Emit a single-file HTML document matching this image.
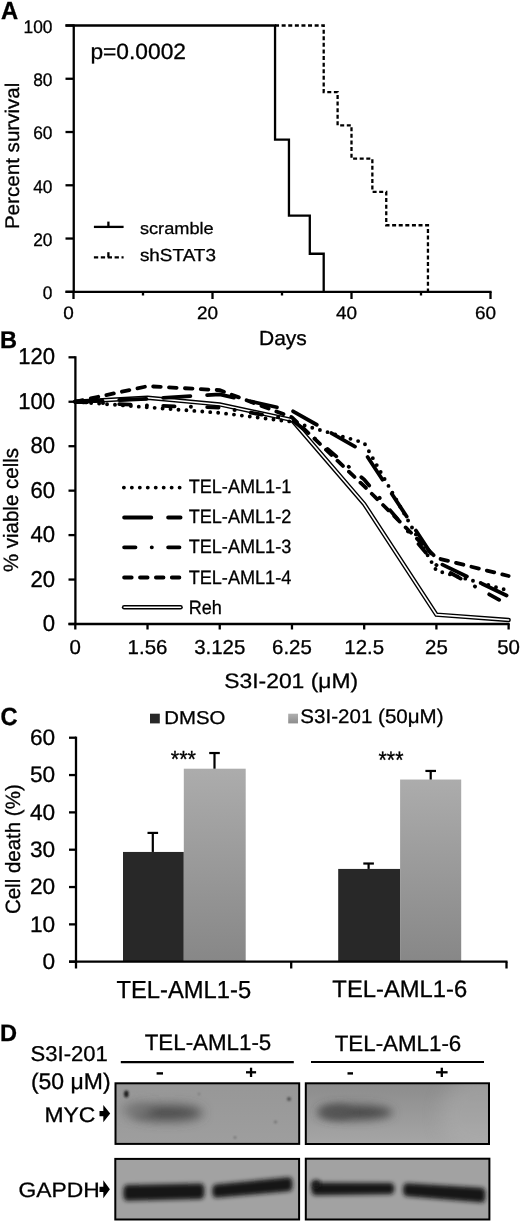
<!DOCTYPE html>
<html><head><meta charset="utf-8"><style>
html,body{margin:0;padding:0;background:#fff;}
svg{display:block;opacity:0.999;}
text{font-family:"Liberation Sans", sans-serif;fill:#000;stroke:#000;stroke-width:0.3px;text-rendering:geometricPrecision;}
</style></head><body>
<svg width="520" height="1222" viewBox="0 0 520 1222" style='font-family:"Liberation Sans", sans-serif'>
<rect width="520" height="1222" fill="#fff"/>
<text transform="matrix(0.9901 0 0 1.0302 0.96 18.60)" font-size="24" font-weight="bold">A</text>
<line x1="73.75" y1="24.40" x2="73.75" y2="292.90" stroke="#000" stroke-width="2.3" />
<line x1="65.50" y1="291.80" x2="73.75" y2="291.80" stroke="#000" stroke-width="2.3" />
<text transform="matrix(0.9620 0 0 1.0094 52.50 299.24)" font-size="18" text-anchor="end">0</text>
<line x1="65.50" y1="238.54" x2="73.75" y2="238.54" stroke="#000" stroke-width="2.3" />
<text transform="matrix(0.9620 0 0 1.0094 52.50 245.98)" font-size="18" text-anchor="end">20</text>
<line x1="65.50" y1="185.28" x2="73.75" y2="185.28" stroke="#000" stroke-width="2.3" />
<text transform="matrix(0.9620 0 0 1.0094 52.50 192.72)" font-size="18" text-anchor="end">40</text>
<line x1="65.50" y1="132.02" x2="73.75" y2="132.02" stroke="#000" stroke-width="2.3" />
<text transform="matrix(0.9620 0 0 1.0094 52.50 139.46)" font-size="18" text-anchor="end">60</text>
<line x1="65.50" y1="78.76" x2="73.75" y2="78.76" stroke="#000" stroke-width="2.3" />
<text transform="matrix(0.9620 0 0 1.0094 52.50 86.20)" font-size="18" text-anchor="end">80</text>
<line x1="65.50" y1="25.50" x2="73.75" y2="25.50" stroke="#000" stroke-width="2.3" />
<text transform="matrix(0.9620 0 0 1.0094 52.50 32.94)" font-size="18" text-anchor="end">100</text>
<line x1="65.50" y1="291.80" x2="491.60" y2="291.80" stroke="#000" stroke-width="2.3" />
<line x1="73.50" y1="291.80" x2="73.50" y2="299.00" stroke="#000" stroke-width="2.3" />
<text transform="matrix(1.0530 0 0 1.0038 68.44 319.48)" font-size="18" text-anchor="middle">0</text>
<line x1="212.50" y1="291.80" x2="212.50" y2="299.00" stroke="#000" stroke-width="2.3" />
<text transform="matrix(1.0530 0 0 1.0038 207.44 319.48)" font-size="18" text-anchor="middle">20</text>
<line x1="351.50" y1="291.80" x2="351.50" y2="299.00" stroke="#000" stroke-width="2.3" />
<text transform="matrix(1.0530 0 0 1.0038 346.44 319.48)" font-size="18" text-anchor="middle">40</text>
<line x1="490.50" y1="291.80" x2="490.50" y2="299.00" stroke="#000" stroke-width="2.3" />
<text transform="matrix(1.0530 0 0 1.0038 485.44 319.48)" font-size="18" text-anchor="middle">60</text>
<line x1="143.00" y1="291.80" x2="143.00" y2="295.50" stroke="#000" stroke-width="2.3" />
<line x1="282.00" y1="291.80" x2="282.00" y2="295.50" stroke="#000" stroke-width="2.3" />
<line x1="421.00" y1="291.80" x2="421.00" y2="295.50" stroke="#000" stroke-width="2.3" />
<text transform="matrix(1.0511 0 0 1.0194 258.95 344.58)" font-size="20">Days</text>
<text transform="matrix(0 -1.0298 0.9862 0 18.71 229.12)" font-size="20">Percent survival</text>
<text transform="matrix(1.0349 0 0 1.0038 90.38 59.03)" font-size="22">p=0.0002</text>
<path d="M65.5 25.50 H275.05 V139.64 H288.95 V215.72 H309.80 V253.75 H323.70 V291.80" fill="none" stroke="#000" stroke-width="2.3"/>
<path d="M275.05 25.50 H323.70 V92.08 H337.60 V125.36 H351.50 V158.65 H372.35 V191.94 H386.25 V225.23 H427.95 V291.80" fill="none" stroke="#000" stroke-width="2.3" stroke-dasharray="4 2.6"/>
<line x1="93.90" y1="226.90" x2="123.60" y2="226.90" stroke="#000" stroke-width="2.3" />
<line x1="108.40" y1="221.60" x2="108.40" y2="226.90" stroke="#000" stroke-width="2.3" />
<text transform="matrix(1.0100 0 0 0.9233 139.91 234.43)" font-size="18">scramble</text>
<line x1="93.90" y1="257.30" x2="123.60" y2="257.30" stroke="#000" stroke-width="2.3" stroke-dasharray="4.3 2.6"/>
<line x1="108.40" y1="252.20" x2="108.40" y2="257.30" stroke="#000" stroke-width="2.3" />
<text transform="matrix(1.0505 0 0 0.9674 139.90 261.06)" font-size="18">shSTAT3</text>
<text transform="matrix(0.9829 0 0 1.0061 0.00 347.52)" font-size="24" font-weight="bold">B</text>
<line x1="75.40" y1="356.20" x2="75.40" y2="625.10" stroke="#000" stroke-width="2.3" />
<line x1="68.50" y1="624.00" x2="75.40" y2="624.00" stroke="#000" stroke-width="2.3" />
<text transform="matrix(1.0047 0 0 1.0415 55.11 631.01)" font-size="22" text-anchor="end">0</text>
<line x1="68.50" y1="579.55" x2="75.40" y2="579.55" stroke="#000" stroke-width="2.3" />
<text transform="matrix(1.0047 0 0 1.0415 55.11 586.56)" font-size="22" text-anchor="end">20</text>
<line x1="68.50" y1="535.10" x2="75.40" y2="535.10" stroke="#000" stroke-width="2.3" />
<text transform="matrix(1.0047 0 0 1.0415 55.11 542.11)" font-size="22" text-anchor="end">40</text>
<line x1="68.50" y1="490.65" x2="75.40" y2="490.65" stroke="#000" stroke-width="2.3" />
<text transform="matrix(1.0047 0 0 1.0415 55.11 497.66)" font-size="22" text-anchor="end">60</text>
<line x1="68.50" y1="446.20" x2="75.40" y2="446.20" stroke="#000" stroke-width="2.3" />
<text transform="matrix(1.0047 0 0 1.0415 55.11 453.21)" font-size="22" text-anchor="end">80</text>
<line x1="68.50" y1="401.75" x2="75.40" y2="401.75" stroke="#000" stroke-width="2.3" />
<text transform="matrix(1.0047 0 0 1.0415 55.11 408.76)" font-size="22" text-anchor="end">100</text>
<line x1="68.50" y1="357.30" x2="75.40" y2="357.30" stroke="#000" stroke-width="2.3" />
<text transform="matrix(1.0047 0 0 1.0415 55.11 364.31)" font-size="22" text-anchor="end">120</text>
<line x1="68.50" y1="624.00" x2="509.72" y2="624.00" stroke="#000" stroke-width="2.3" />
<line x1="75.30" y1="624.00" x2="75.30" y2="629.50" stroke="#000" stroke-width="2.3" />
<text transform="matrix(1.0228 0 0 1.0085 75.30 654.45)" font-size="20" text-anchor="middle">0</text>
<line x1="147.52" y1="624.00" x2="147.52" y2="629.50" stroke="#000" stroke-width="2.3" />
<text transform="matrix(1.0228 0 0 1.0085 147.52 654.45)" font-size="20" text-anchor="middle">1.56</text>
<line x1="219.74" y1="624.00" x2="219.74" y2="629.50" stroke="#000" stroke-width="2.3" />
<text transform="matrix(1.0228 0 0 1.0085 219.74 654.45)" font-size="20" text-anchor="middle">3.125</text>
<line x1="291.96" y1="624.00" x2="291.96" y2="629.50" stroke="#000" stroke-width="2.3" />
<text transform="matrix(1.0228 0 0 1.0085 291.96 654.45)" font-size="20" text-anchor="middle">6.25</text>
<line x1="364.18" y1="624.00" x2="364.18" y2="629.50" stroke="#000" stroke-width="2.3" />
<text transform="matrix(1.0228 0 0 1.0085 364.18 654.45)" font-size="20" text-anchor="middle">12.5</text>
<line x1="436.40" y1="624.00" x2="436.40" y2="629.50" stroke="#000" stroke-width="2.3" />
<text transform="matrix(1.0228 0 0 1.0085 436.40 654.45)" font-size="20" text-anchor="middle">25</text>
<line x1="508.62" y1="624.00" x2="508.62" y2="629.50" stroke="#000" stroke-width="2.3" />
<text transform="matrix(1.0228 0 0 1.0085 508.62 654.45)" font-size="20" text-anchor="middle">50</text>
<text transform="matrix(1.0401 0 0 0.9524 224.20 687.77)" font-size="22">S3I-201 (&#956;M)</text>
<text transform="matrix(0 -1.0243 1.0362 0 18.42 572.12)" font-size="20">% viable cells</text>
<polyline points="75.30,401.75 147.52,397.75 219.74,404.42 291.96,419.97 364.18,503.99 436.40,614.67 508.62,620.00" fill="none" stroke="#000" stroke-width="4.4" stroke-linejoin="miter" stroke-linecap="round"/>
<polyline points="75.30,401.75 147.52,397.75 219.74,404.42 291.96,419.97 364.18,503.99 436.40,614.67 508.62,620.00" fill="none" stroke="#fff" stroke-width="1.6" stroke-linejoin="miter" stroke-linecap="round"/>
<polyline points="75.30,401.75 147.52,407.31 219.74,412.86 291.96,421.75 364.18,442.87 436.40,570.66 508.62,590.66" fill="none" stroke="#000" stroke-width="3.9" stroke-linecap="round" stroke-dasharray="0 7.96"/>
<polyline points="75.30,401.75 147.52,398.86 219.74,394.42 291.96,410.64 364.18,451.76 436.40,561.77 508.62,596.44" fill="none" stroke="#000" stroke-width="3.8" stroke-linecap="round" stroke-dasharray="27.2 16.8"/>
<polyline points="75.30,401.75 147.52,405.53 219.74,407.53 291.96,419.53 364.18,479.54 436.40,565.10 508.62,605.11" fill="none" stroke="#000" stroke-width="3.8" stroke-linecap="round" stroke-dasharray="11.4 16.2 0.2 16.2"/>
<polyline points="75.30,401.75 147.52,386.19 219.74,390.19 291.96,417.31 364.18,486.21 436.40,557.99 508.62,575.99" fill="none" stroke="#000" stroke-width="3.8" stroke-linecap="round" stroke-dasharray="7.6 8.3"/>
<line x1="123.89999999999999" y1="487.6" x2="179.92" y2="487.6" stroke="#000" stroke-width="3.9" stroke-linecap="round" stroke-dasharray="0 7.96"/>
<line x1="124.1" y1="517.5" x2="180.6" y2="517.5" stroke="#000" stroke-width="3.8" stroke-linecap="round" stroke-dasharray="27.2 16.8"/>
<line x1="124.1" y1="547.3" x2="179.6" y2="547.3" stroke="#000" stroke-width="3.8" stroke-linecap="round" stroke-dasharray="11.4 16.2 0.2 16.2"/>
<line x1="124.1" y1="577.5" x2="181.6" y2="577.5" stroke="#000" stroke-width="3.8" stroke-linecap="round" stroke-dasharray="7.6 8.3"/>
<line x1="124.1" y1="607.3" x2="180.6" y2="607.3" stroke="#000" stroke-width="4.4" stroke-linecap="round"/>
<line x1="124.1" y1="607.3" x2="180.6" y2="607.3" stroke="#fff" stroke-width="1.6" stroke-linecap="round"/>
<text transform="matrix(0.9530 0 0 1.0145 188.64 492.93)" font-size="19">TEL-AML1-1</text>
<text transform="matrix(0.9530 0 0 1.0145 188.64 523.18)" font-size="19">TEL-AML1-2</text>
<text transform="matrix(0.9530 0 0 1.0145 188.64 553.43)" font-size="19">TEL-AML1-3</text>
<text transform="matrix(0.9530 0 0 1.0145 188.64 583.68)" font-size="19">TEL-AML1-4</text>
<text transform="matrix(0.9530 0 0 1.0145 188.64 613.93)" font-size="19">Reh</text>
<text transform="matrix(0.9847 0 0 1.0360 0.55 724.51)" font-size="24" font-weight="bold">C</text>
<line x1="76.00" y1="736.62" x2="76.00" y2="962.80" stroke="#000" stroke-width="2.3" />
<line x1="69.00" y1="961.70" x2="76.00" y2="961.70" stroke="#000" stroke-width="2.3" />
<text transform="matrix(1.0309 0 0 1.0174 55.22 969.09)" font-size="22" text-anchor="end">0</text>
<line x1="69.00" y1="924.37" x2="76.00" y2="924.37" stroke="#000" stroke-width="2.3" />
<text transform="matrix(1.0309 0 0 1.0174 55.22 931.76)" font-size="22" text-anchor="end">10</text>
<line x1="69.00" y1="887.04" x2="76.00" y2="887.04" stroke="#000" stroke-width="2.3" />
<text transform="matrix(1.0309 0 0 1.0174 55.22 894.43)" font-size="22" text-anchor="end">20</text>
<line x1="69.00" y1="849.71" x2="76.00" y2="849.71" stroke="#000" stroke-width="2.3" />
<text transform="matrix(1.0309 0 0 1.0174 55.22 857.10)" font-size="22" text-anchor="end">30</text>
<line x1="69.00" y1="812.38" x2="76.00" y2="812.38" stroke="#000" stroke-width="2.3" />
<text transform="matrix(1.0309 0 0 1.0174 55.22 819.77)" font-size="22" text-anchor="end">40</text>
<line x1="69.00" y1="775.05" x2="76.00" y2="775.05" stroke="#000" stroke-width="2.3" />
<text transform="matrix(1.0309 0 0 1.0174 55.22 782.44)" font-size="22" text-anchor="end">50</text>
<line x1="69.00" y1="737.72" x2="76.00" y2="737.72" stroke="#000" stroke-width="2.3" />
<text transform="matrix(1.0309 0 0 1.0174 55.22 745.11)" font-size="22" text-anchor="end">60</text>
<defs><linearGradient id="gg" x1="0" y1="0" x2="0" y2="1"><stop offset="0" stop-color="#acacac"/><stop offset="1" stop-color="#878787"/></linearGradient><linearGradient id="gl" x1="0" y1="0" x2="0" y2="1"><stop offset="0" stop-color="#b0b0b0"/><stop offset="1" stop-color="#8c8c8c"/></linearGradient></defs>
<rect x="123.00" y="851.95" width="60.80" height="109.75" fill="#282828"/>
<line x1="152.80" y1="851.95" x2="152.80" y2="832.91" stroke="#000" stroke-width="2.2" />
<line x1="147.50" y1="832.91" x2="158.10" y2="832.91" stroke="#000" stroke-width="2.2" />
<rect x="183.80" y="768.70" width="61.90" height="193.00" fill="url(#gg)"/>
<line x1="214.50" y1="768.70" x2="214.50" y2="753.03" stroke="#000" stroke-width="2.2" />
<line x1="209.20" y1="753.03" x2="219.80" y2="753.03" stroke="#000" stroke-width="2.2" />
<rect x="338.20" y="868.93" width="61.90" height="92.77" fill="#282828"/>
<line x1="368.60" y1="868.93" x2="368.60" y2="863.52" stroke="#000" stroke-width="2.2" />
<line x1="363.30" y1="863.52" x2="373.90" y2="863.52" stroke="#000" stroke-width="2.2" />
<rect x="400.10" y="779.53" width="61.10" height="182.17" fill="url(#gg)"/>
<line x1="430.70" y1="779.53" x2="430.70" y2="770.94" stroke="#000" stroke-width="2.2" />
<line x1="425.40" y1="770.94" x2="436.00" y2="770.94" stroke="#000" stroke-width="2.2" />
<line x1="69.00" y1="961.70" x2="507.50" y2="961.70" stroke="#000" stroke-width="2.3" />
<line x1="76.00" y1="961.70" x2="76.00" y2="968.50" stroke="#000" stroke-width="2.3" />
<line x1="291.20" y1="961.70" x2="291.20" y2="968.50" stroke="#000" stroke-width="2.3" />
<line x1="506.50" y1="961.70" x2="506.50" y2="968.50" stroke="#000" stroke-width="2.3" />
<text transform="matrix(0.9824 0 0 1.0542 170.72 767.39)" font-size="22">***</text>
<text transform="matrix(0.9691 0 0 1.0854 378.57 768.14)" font-size="22">***</text>
<text transform="matrix(0.9895 0 0 1.0280 116.50 997.51)" font-size="24">TEL-AML1-5</text>
<text transform="matrix(0.9908 0 0 0.9839 332.35 997.19)" font-size="24">TEL-AML1-6</text>
<rect x="150" y="713.7" width="9.8" height="9.7" fill="#282828"/>
<text transform="matrix(1.0176 0 0 0.9264 164.37 723.89)" font-size="20">DMSO</text>
<rect x="288.2" y="713.7" width="9.8" height="9.7" fill="url(#gl)"/>
<text transform="matrix(1.0274 0 0 0.9827 300.37 723.49)" font-size="20">S3I-201 (50&#956;M)</text>
<text transform="matrix(0 -1.0245 1.0318 0 19.56 914.10)" font-size="20">Cell death (%)</text>
<text transform="matrix(0.9837 0 0 0.9893 -0.07 1040.70)" font-size="24" font-weight="bold">D</text>
<text transform="matrix(1.0501 0 0 1.0219 30.60 1060.82)" font-size="21">S3I-201</text>
<text transform="matrix(1.0944 0 0 1.0745 30.89 1088.96)" font-size="21">(50 &#956;M)</text>
<text transform="matrix(1.0146 0 0 1.0218 144.72 1050.41)" font-size="22">TEL-AML1-5</text>
<text transform="matrix(1.0148 0 0 1.0108 334.70 1050.64)" font-size="22">TEL-AML1-6</text>
<line x1="120.80" y1="1062.20" x2="293.80" y2="1062.20" stroke="#000" stroke-width="2.2" />
<line x1="311.00" y1="1062.00" x2="484.00" y2="1062.00" stroke="#000" stroke-width="2.2" />
<line x1="156.60" y1="1073.40" x2="163.00" y2="1073.40" stroke="#000" stroke-width="2.4" />
<line x1="347.50" y1="1073.40" x2="353.00" y2="1073.40" stroke="#000" stroke-width="2.4" />
<line x1="246.00" y1="1072.30" x2="256.10" y2="1072.30" stroke="#000" stroke-width="2.3" />
<line x1="251.05" y1="1067.70" x2="251.05" y2="1077.00" stroke="#000" stroke-width="2.3" />
<line x1="436.00" y1="1072.30" x2="447.60" y2="1072.30" stroke="#000" stroke-width="2.3" />
<line x1="441.80" y1="1067.70" x2="441.80" y2="1077.00" stroke="#000" stroke-width="2.3" />
<defs><filter id="blur4" x="-50%" y="-80%" width="200%" height="260%"><feGaussianBlur stdDeviation="5"/></filter><filter id="blur8" x="-50%" y="-50%" width="200%" height="200%"><feGaussianBlur stdDeviation="9"/></filter><filter id="blur5" x="-50%" y="-100%" width="200%" height="300%"><feGaussianBlur stdDeviation="5.5"/></filter><filter id="blur1" x="-50%" y="-50%" width="200%" height="200%"><feGaussianBlur stdDeviation="1"/></filter><filter id="blur2" x="-20%" y="-80%" width="140%" height="260%"><feGaussianBlur stdDeviation="1.9"/></filter><linearGradient id="m2" x1="0" y1="0" x2="0" y2="1"><stop offset="0" stop-color="#8c8c8c"/><stop offset="1" stop-color="#a6a6a6"/></linearGradient><linearGradient id="m1" x1="0" y1="0" x2="0" y2="1"><stop offset="0" stop-color="#979797"/><stop offset="1" stop-color="#9e9e9e"/></linearGradient><clipPath id="c1"><rect x="116.6" y="1084.3" width="181.5" height="58.5"/></clipPath><clipPath id="c2"><rect x="306.9" y="1084.3" width="181" height="58.6"/></clipPath></defs>
<rect x="115.50" y="1083.30" width="183.70" height="60.60" fill="url(#m1)" stroke="#000" stroke-width="2"/>
<rect x="305.80" y="1083.30" width="183.20" height="60.70" fill="url(#m2)" stroke="#000" stroke-width="2"/>
<g clip-path="url(#c1)"><ellipse cx="167" cy="1113" rx="36" ry="8" fill="#4c4c4c" filter="url(#blur5)"/><ellipse cx="137" cy="1110" rx="15" ry="6.5" fill="#767676" filter="url(#blur5)"/><ellipse cx="126.3" cy="1094" rx="2.3" ry="3.4" fill="#1e1e1e" filter="url(#blur1)"/><circle cx="289" cy="1099" r="2" fill="#505050" filter="url(#blur1)"/><circle cx="275.5" cy="1122" r="1.3" fill="#666" filter="url(#blur1)"/><circle cx="235" cy="1137.5" r="1.2" fill="#6a6a6a" filter="url(#blur1)"/><circle cx="199" cy="1094" r="1.2" fill="#777" filter="url(#blur1)"/></g>
<g clip-path="url(#c2)"><ellipse cx="355" cy="1112.5" rx="38" ry="7.5" fill="#4a4a4a" filter="url(#blur4)"/><ellipse cx="336" cy="1112" rx="16" ry="6.5" fill="#555" filter="url(#blur4)"/><ellipse cx="480" cy="1115" rx="40" ry="40" fill="#b0b0b0" opacity="0.45" filter="url(#blur8)"/></g>
<rect x="115.30" y="1158.90" width="183.80" height="60.60" fill="#a2a2a2" stroke="#000" stroke-width="2"/>
<rect x="305.80" y="1158.70" width="183.60" height="60.80" fill="#a2a2a2" stroke="#000" stroke-width="2"/>
<path d="M126.8 1185.0 L200.9 1183.6 Q204.4 1183.6 204.4 1191.3 Q204.4 1199.0 200.9 1199.0 L126.8 1200.8 Q123.3 1200.8 123.3 1192.9 Q123.3 1185.0 126.8 1185.0 Z" fill="#181818" filter="url(#blur2)"/>
<path d="M215.8 1184.4 L289.0 1177.3 Q292.5 1177.3 292.5 1184.2 Q292.5 1191.2 289.0 1191.2 L215.8 1197.8 Q212.3 1197.8 212.3 1191.1 Q212.3 1184.4 215.8 1184.4 Z" fill="#181818" filter="url(#blur2)"/>
<path d="M315.0 1182.8 L390.7 1183.0 Q394.2 1183.0 394.2 1188.6 Q394.2 1194.2 390.7 1194.2 L315.0 1195.2 Q311.5 1195.2 311.5 1189.0 Q311.5 1182.8 315.0 1182.8 Z" fill="#181818" filter="url(#blur2)"/>
<ellipse cx="316" cy="1184" rx="4.5" ry="4" fill="#181818" filter="url(#blur2)"/>
<path d="M406.6 1183.2 L481.9 1187.8 Q485.4 1187.8 485.4 1195.2 Q485.4 1202.6 481.9 1202.6 L406.6 1196.2 Q403.1 1196.2 403.1 1189.7 Q403.1 1183.2 406.6 1183.2 Z" fill="#181818" filter="url(#blur2)"/>
<text transform="matrix(1.0663 0 0 0.9894 44.48 1121.71)" font-size="21.5">MYC</text>
<text transform="matrix(1.0618 0 0 0.9716 18.53 1196.83)" font-size="21.5">GAPDH</text>
<polygon points="99.5,1111.0 103.3,1111.0 103.3,1104.9499999999998 110.2,1113.6 103.3,1122.25 103.3,1116.1999999999998 99.5,1116.1999999999998" fill="#000"/>
<polygon points="99.5,1186.7 103.3,1186.7 103.3,1180.35 109.9,1189.3 103.3,1198.25 103.3,1191.8999999999999 99.5,1191.8999999999999" fill="#000"/>
</svg>
</body></html>
